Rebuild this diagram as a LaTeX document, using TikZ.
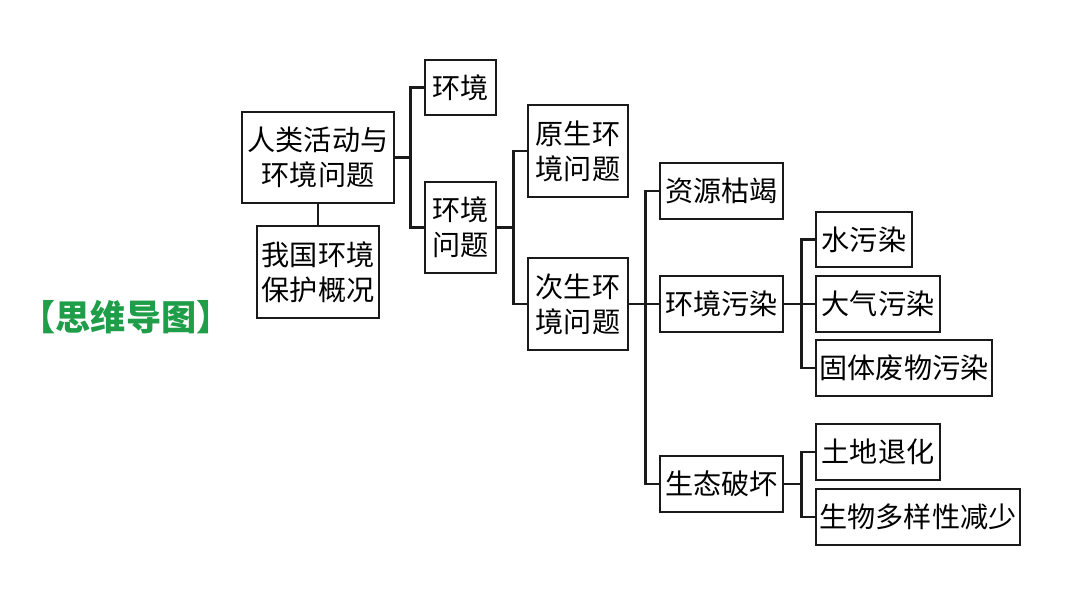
\documentclass[tikz,border=0pt]{standalone}
\usepackage{fontspec}
\usetikzlibrary{positioning,calc}
\newfontfamily\cjk{Noto Sans CJK SC}
\definecolor{mapgreen}{HTML}{1F9E4A}
\definecolor{linegray}{HTML}{1A1A1A}

\tikzset{
  box/.style={draw=linegray, line width=1.9pt, rectangle, align=center, inner sep=0pt,
    font=\cjk\fontsize{20}{25}\selectfont},
  boxsize/.style 2 args={minimum width=#1*0.025cm, minimum height=#2*0.025cm},
  link/.style={draw=linegray, line width=1.7pt},
}

\begin{document}
\begin{tikzpicture}[x=0.025cm, y=-0.025cm]
\useasboundingbox (0,0) rectangle (1080,608);

% title
\node[font=\cjk\bfseries\fontsize{25}{28}\selectfont, text=mapgreen] (title) at (126,317) {【思维导图】};

% main boxes
\node[box, boxsize={152}{91}] (human) at (318,157.5) {人类活动与\\环境问题};
\node[box, boxsize={122}{92}] (protect) at (318,272) {我国环境\\保护概况};
\node[box, boxsize={71}{55}] (env) at (460.5,87.5) {环境};
\node[box, boxsize={71}{91}] (problem) at (460.5,227.5) {环境\\问题};
\node[box, boxsize={100}{92}] (primary) at (578,151) {原生环\\境问题};
\node[box, boxsize={100}{92}] (secondary) at (578,304) {次生环\\境问题};

% secondary problems
\node[box, boxsize={123}{56}] (resource) at (721.5,191) {资源枯竭};
\node[box, boxsize={123}{56}] (pollution) at (721.5,304) {环境污染};
\node[box, boxsize={123}{56}] (ecology) at (721.5,484) {生态破坏};

\node[box, boxsize={96}{55}] (water) at (864,239.5) {水污染};
\node[box, boxsize={124}{56}] (air) at (878,304) {大气污染};
\node[box, boxsize={176}{56}] (solid) at (904,368) {固体废物污染};
\node[box, boxsize={124}{56}] (land) at (878,452) {土地退化};
\node[box, boxsize={204}{56}] (species) at (918,517) {生物多样性减少};

% connectors
\draw[link] (human.south) -- (protect.north);
\draw[link] (human.east) -- ++(15,0) |- (env.west);
\draw[link] (human.east) -- ++(15,0) |- (problem.west);
\draw[link] (problem.east) -- ++(16,0) |- (primary.west);
\draw[link] (problem.east) -- ++(16,0) |- (secondary.west);
\foreach \k in {resource,pollution,ecology}
  \draw[link] (secondary.east) -- ++(16,0) |- (\k.west);
\foreach \k in {water,air,solid}
  \draw[link] (pollution.east) -- ++(17,0) |- (\k.west);
\foreach \k in {land,species}
  \draw[link] (ecology.east) -- ++(17,0) |- (\k.west);
\end{tikzpicture}
\end{document}
